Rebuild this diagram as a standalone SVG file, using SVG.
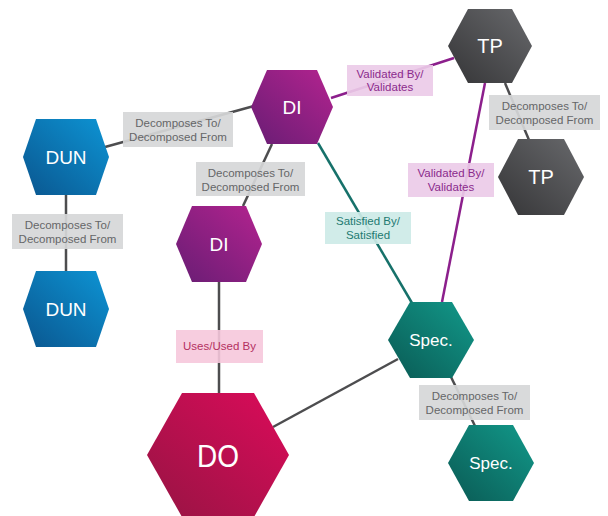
<svg xmlns="http://www.w3.org/2000/svg" width="608" height="516" viewBox="0 0 608 516">
<defs>
<linearGradient id="gDUN" x1="1" y1="0" x2="0" y2="1"><stop offset="0" stop-color="#0d94d4"/><stop offset="1" stop-color="#0a568f"/></linearGradient>
<linearGradient id="gDI" x1="1" y1="0" x2="0" y2="1"><stop offset="0" stop-color="#b3238f"/><stop offset="1" stop-color="#681d74"/></linearGradient>
<linearGradient id="gTP" x1="1" y1="0" x2="0" y2="1"><stop offset="0" stop-color="#68696c"/><stop offset="1" stop-color="#353537"/></linearGradient>
<linearGradient id="gSP" x1="1" y1="0" x2="0" y2="1"><stop offset="0" stop-color="#12998a"/><stop offset="1" stop-color="#0a5a54"/></linearGradient>
<linearGradient id="gDO" x1="1" y1="0" x2="0" y2="1"><stop offset="0" stop-color="#dc0b5a"/><stop offset="1" stop-color="#961443"/></linearGradient>
</defs>
<style>
.node text{font-family:"Liberation Sans",Arial,sans-serif;fill:#ffffff;text-anchor:middle;}
.c{fill:none;stroke-width:2.5;}
.cg{stroke:#4d4d4f;}
.cp{stroke:#8c1f8c;}
.ct{stroke:#16716a;}
.lb text{font-family:"Liberation Sans",Arial,sans-serif;font-size:11.5px;text-anchor:middle;}
.bg rect{fill:#d6d7d8;fill-opacity:0.92;}
.bg text{fill:#656668;}
.bp rect{fill:#eccbe8;fill-opacity:0.92;}
.bp text{fill:#8b2a8c;}
.bt rect{fill:#cdeae7;fill-opacity:0.92;}
.bt text{fill:#237a71;}
.bk rect{fill:#f6c8dc;fill-opacity:0.9;}
.bk text{fill:#b4305f;}
</style>
<rect width="608" height="516" fill="#ffffff"/>
<g id="connectors">
<line class="c cg" x1="105" y1="147" x2="254" y2="106"/>
<line class="c cg" x1="66" y1="195" x2="66" y2="271"/>
<line class="c cg" x1="272" y1="144" x2="243" y2="206"/>
<line class="c cg" x1="219" y1="282" x2="219" y2="393"/>
<line class="c cg" x1="273" y1="427" x2="398" y2="359"/>
<line class="c ct" x1="318" y1="143" x2="412" y2="303"/>
<line class="c cp" x1="331" y1="98" x2="454" y2="58"/>
<line class="c cp" x1="485" y1="83" x2="442" y2="302"/>
<line class="c cg" x1="505" y1="83" x2="529" y2="140"/>
<line class="c cg" x1="451" y1="377" x2="475" y2="426"/>
</g>
<g id="labels" class="lb">
<g class="bg"><rect x="123" y="112" width="110" height="35"/><text x="178" y="127">Decomposes To/</text><text x="178" y="141">Decomposed From</text></g>
<g class="bg"><rect x="12" y="214" width="111" height="35"/><text x="67.5" y="229">Decomposes To/</text><text x="67.5" y="243">Decomposed From</text></g>
<g class="bg"><rect x="196" y="162" width="109" height="34"/><text x="250.5" y="177">Decomposes To/</text><text x="250.5" y="191">Decomposed From</text></g>
<g class="bg"><rect x="489" y="95" width="111" height="35"/><text x="544.5" y="110">Decomposes To/</text><text x="544.5" y="124">Decomposed From</text></g>
<g class="bg"><rect x="419" y="385" width="111" height="35"/><text x="474.5" y="400">Decomposes To/</text><text x="474.5" y="414">Decomposed From</text></g>
<g class="bp"><rect x="347" y="65" width="86" height="31"/><text x="390" y="78">Validated By/</text><text x="390" y="91">Validates</text></g>
<g class="bp"><rect x="408" y="163" width="86" height="34"/><text x="451" y="177">Validated By/</text><text x="451" y="191">Validates</text></g>
<g class="bt"><rect x="325" y="212" width="86" height="32"/><text x="368" y="225">Satisfied By/</text><text x="368" y="239">Satisfied</text></g>
<g class="bk"><rect x="176" y="330" width="87" height="33"/><text x="219.5" y="350">Uses/Used By</text></g>
</g>
<g id="dun1" class="node"><polygon points="23,157 36,119 96,119 109,157 96,195 36,195" fill="url(#gDUN)"/><text x="66" y="164" font-size="19">DUN</text></g>
<g id="dun2" class="node"><polygon points="23,309 36,271 96,271 109,309 96,347 36,347" fill="url(#gDUN)"/><text x="66" y="316" font-size="19">DUN</text></g>
<g id="di1" class="node"><polygon points="251,107 267,70 317,70 333,107 317,144 267,144" fill="url(#gDI)"/><text x="292" y="114" font-size="19">DI</text></g>
<g id="di2" class="node"><polygon points="176,244 192,206 246,206 262,244 246,282 192,282" fill="url(#gDI)"/><text x="219" y="251" font-size="19">DI</text></g>
<g id="tp1" class="node"><polygon points="448,46 468,9 512,9 532,46 512,83 468,83" fill="url(#gTP)"/><text x="490" y="53" font-size="20">TP</text></g>
<g id="tp2" class="node"><polygon points="498,177 518,139 564,139 584,177 564,215 518,215" fill="url(#gTP)"/><text x="541" y="184" font-size="20">TP</text></g>
<g id="spec1" class="node"><polygon points="388,340 410,302 452,302 474,340 452,378 410,378" fill="url(#gSP)"/><text x="431" y="346" font-size="17">Spec.</text></g>
<g id="spec2" class="node"><polygon points="448,463 469,425 513,425 534,463 513,501 469,501" fill="url(#gSP)"/><text x="491" y="469" font-size="17">Spec.</text></g>
<g id="do" class="node"><polygon points="147,455 182,393 254,393 289,455 254,517 182,517" fill="url(#gDO)"/><text x="218" y="467" font-size="32" textLength="42" lengthAdjust="spacingAndGlyphs">DO</text></g>
</svg>
